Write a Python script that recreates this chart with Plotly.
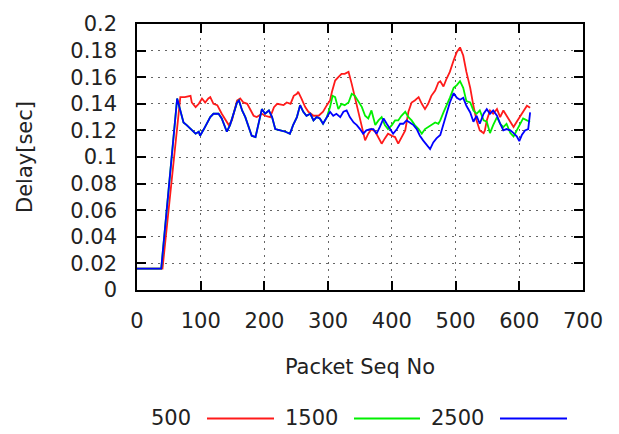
import plotly.graph_objects as go

# ---- data ----
x_500 = [0, 40, 68, 75, 84, 86, 92, 97, 102, 107, 112, 115, 120, 126, 133, 139, 144, 149, 157, 162,
         167, 173, 178, 183, 188, 196, 201, 209, 215, 220, 230, 235, 241, 246, 251, 253, 258, 264, 269, 277,
         285, 292, 298, 303, 306, 311, 316, 321, 326, 332, 337, 342, 347, 353, 358, 363, 368, 374, 379, 384,
         389, 394, 400, 405, 410, 415, 421, 426, 431, 436, 442, 447, 452, 457, 462, 468, 473, 476, 481, 486,
         491, 497, 502, 507, 512, 517, 523, 528, 533, 538, 544, 546, 549, 554, 559, 565, 570, 575, 580, 586,
         591, 596, 601, 606, 612, 617]
y_500 = [0.016, 0.016, 0.145, 0.145, 0.146, 0.141, 0.1375, 0.14, 0.144, 0.141, 0.144, 0.145, 0.14, 0.139, 0.1325, 0.1275, 0.124, 0.1275, 0.1425, 0.144,
         0.141, 0.14, 0.135, 0.131, 0.13, 0.1325, 0.131, 0.13, 0.1375, 0.14, 0.139, 0.141, 0.14, 0.146, 0.1475, 0.149, 0.144, 0.1375, 0.134, 0.131,
         0.131, 0.134, 0.139, 0.1425, 0.149, 0.1575, 0.16, 0.1625, 0.1625, 0.164, 0.155, 0.145, 0.135, 0.1225, 0.1125, 0.1175, 0.121, 0.119, 0.115, 0.11,
         0.114, 0.1175, 0.116, 0.115, 0.11, 0.115, 0.12, 0.134, 0.141, 0.1425, 0.145, 0.14, 0.136, 0.14, 0.146, 0.15, 0.156, 0.157, 0.153, 0.159,
         0.164, 0.1727, 0.179, 0.1824, 0.1763, 0.164, 0.152, 0.1385, 0.1275, 0.12, 0.118, 0.12, 0.1275, 0.135, 0.1325, 0.136, 0.13, 0.135, 0.131, 0.1265,
         0.1225, 0.1265, 0.13, 0.1335, 0.1385, 0.137]

x_1500 = [0, 38, 63, 68, 73, 78, 86, 92, 97, 99, 105, 110, 115, 120, 128, 133, 139, 141, 146, 152,
          157, 160, 165, 170, 175, 180, 186, 191, 196, 201, 207, 212, 217, 225, 233, 240, 245, 251, 256, 261,
          266, 272, 277, 282, 287, 292, 298, 303, 307, 311, 316, 321, 326, 332, 337, 342, 347, 353, 358, 363,
          368, 374, 379, 384, 389, 394, 400, 405, 410, 415, 421, 426, 431, 436, 442, 447, 452, 457, 462, 468,
          473, 476, 481, 486, 491, 497, 502, 507, 512, 517, 523, 528, 533, 538, 544, 549, 554, 559, 565, 570,
          575, 580, 586, 591, 596, 601, 606, 612, 617]
y_1500 = [0.016, 0.016, 0.144, 0.135, 0.126, 0.124, 0.12, 0.1175, 0.119, 0.116, 0.121, 0.126, 0.13, 0.1325, 0.1325, 0.129, 0.121, 0.119, 0.124, 0.1325,
          0.141, 0.1425, 0.135, 0.13, 0.1225, 0.116, 0.115, 0.125, 0.136, 0.1325, 0.135, 0.13, 0.121, 0.12, 0.119, 0.1175, 0.124, 0.13, 0.139, 0.134,
          0.131, 0.1325, 0.1275, 0.13, 0.129, 0.125, 0.13, 0.1375, 0.146, 0.145, 0.136, 0.14, 0.139, 0.141, 0.1475, 0.146, 0.1425, 0.1375, 0.131, 0.129,
          0.135, 0.124, 0.1275, 0.13, 0.124, 0.121, 0.124, 0.1275, 0.1275, 0.131, 0.134, 0.13, 0.1275, 0.124, 0.121, 0.1175, 0.121, 0.1225, 0.124, 0.126,
          0.125, 0.1275, 0.1335, 0.1385, 0.1445, 0.152, 0.154, 0.157, 0.152, 0.142, 0.141, 0.135, 0.1325, 0.135, 0.1275, 0.1265, 0.118, 0.124, 0.13, 0.125,
          0.1225, 0.125, 0.118, 0.1155, 0.12, 0.124, 0.129, 0.1275, 0.1265]

x_2500 = [0, 38, 63, 68, 73, 78, 86, 92, 97, 99, 105, 110, 115, 120, 128, 133, 139, 141, 146, 152,
          157, 160, 165, 170, 175, 180, 186, 191, 196, 201, 207, 212, 217, 225, 233, 240, 245, 251, 256, 261,
          266, 272, 277, 282, 287, 292, 298, 303, 308, 313, 319, 324, 329, 334, 340, 345, 350, 355, 360, 366,
          371, 376, 381, 387, 392, 397, 402, 408, 413, 418, 423, 428, 434, 439, 444, 449, 455, 460, 465, 470,
          476, 481, 486, 491, 497, 502, 507, 512, 517, 523, 528, 533, 538, 544, 549, 554, 559, 565, 570, 575,
          580, 586, 591, 596, 600, 604, 609, 614, 617]
y_2500 = [0.016, 0.016, 0.144, 0.135, 0.126, 0.124, 0.12, 0.1175, 0.119, 0.116, 0.121, 0.126, 0.13, 0.1325, 0.1325, 0.129, 0.121, 0.119, 0.124, 0.1325,
          0.141, 0.1425, 0.135, 0.13, 0.1225, 0.116, 0.115, 0.125, 0.136, 0.1325, 0.135, 0.13, 0.121, 0.12, 0.119, 0.1175, 0.124, 0.13, 0.139, 0.134,
          0.131, 0.1325, 0.1275, 0.13, 0.129, 0.125, 0.13, 0.134, 0.131, 0.1325, 0.13, 0.134, 0.135, 0.13, 0.126, 0.124, 0.121, 0.1175, 0.12, 0.121,
          0.121, 0.1175, 0.1225, 0.129, 0.125, 0.121, 0.1175, 0.121, 0.125, 0.125, 0.1275, 0.126, 0.124, 0.121, 0.116, 0.1125, 0.109, 0.106, 0.111, 0.114,
          0.1165, 0.125, 0.1335, 0.141, 0.148, 0.1445, 0.143, 0.1445, 0.1385, 0.1335, 0.1265, 0.131, 0.125, 0.1325, 0.136, 0.1325, 0.135, 0.131, 0.125, 0.12,
          0.121, 0.12, 0.118, 0.1155, 0.112, 0.1165, 0.12, 0.121, 0.1335]

series_names = ["500", "1500", "2500"]
series_colors = ["#ff1a1a", "#00f000", "#0000ff"]
x_ticks = [0, 100, 200, 300, 400, 500, 600, 700]
y_ticks = [0, 0.02, 0.04, 0.06, 0.08, 0.1, 0.12, 0.14, 0.16, 0.18, 0.2]
y_tick_labels = ["0", "0.02", "0.04", "0.06", "0.08", "0.1", "0.12", "0.14", "0.16", "0.18", "0.2"]

FONT = "DejaVu Sans"
FS = 21
TXT = "#222222"

fig = go.Figure()
for xs, ys, name, col in zip([x_500, x_1500, x_2500], [y_500, y_1500, y_2500], series_names, series_colors):
    fig.add_trace(go.Scatter(x=xs, y=ys, mode="lines", name=name,
                             line=dict(color=col, width=1.8), showlegend=False))

axis_common = dict(
    showline=True, linecolor="black", linewidth=1.5, mirror="ticks",
    ticks="inside", ticklen=9, tickwidth=1.5, tickcolor="black",
    showgrid=True, gridcolor="#666666", gridwidth=1.2, griddash="2px,5px",
    zeroline=False, tickfont=dict(family=FONT, size=FS, color=TXT),
)

fig.update_xaxes(range=[0, 700], tickvals=x_ticks, ticklabelstandoff=11,
                 title=dict(text="Packet Seq No", font=dict(family=FONT, size=FS, color=TXT), standoff=27),
                 **axis_common)
fig.update_yaxes(range=[0, 0.2], tickvals=y_ticks, ticktext=y_tick_labels, ticklabelstandoff=14,
                 title=dict(text="Delay[sec]", font=dict(family=FONT, size=FS, color=TXT), standoff=32),
                 **axis_common)

# gnuplot-style legend below the plot: label text followed by a line sample
L, R, T, B = 137, 583, 19, 290
def px(xp):
    return (xp - L) / (R - L)
def py(yp):
    return (B - yp) / (B - T)

legend_text_right = [193, 340, 486]
legend_line = [(207, 274), (354, 420), (500, 567)]
for name, col, tx, (l0, l1) in zip(series_names, series_colors, legend_text_right, legend_line):
    fig.add_annotation(xref="paper", yref="paper", x=px(tx), y=py(420), xanchor="right", yanchor="middle",
                       text=name, showarrow=False, font=dict(family=FONT, size=FS, color=TXT))
    fig.add_shape(type="line", xref="paper", yref="paper", x0=px(l0), x1=px(l1), y0=py(421), y1=py(421),
                  line=dict(color=col, width=2))

fig.update_layout(
    width=619, height=434,
    margin=dict(l=L, r=619 - R, t=T, b=434 - B),
    paper_bgcolor="white", plot_bgcolor="white",
    showlegend=False,
)

fig.write_html("out.html")
